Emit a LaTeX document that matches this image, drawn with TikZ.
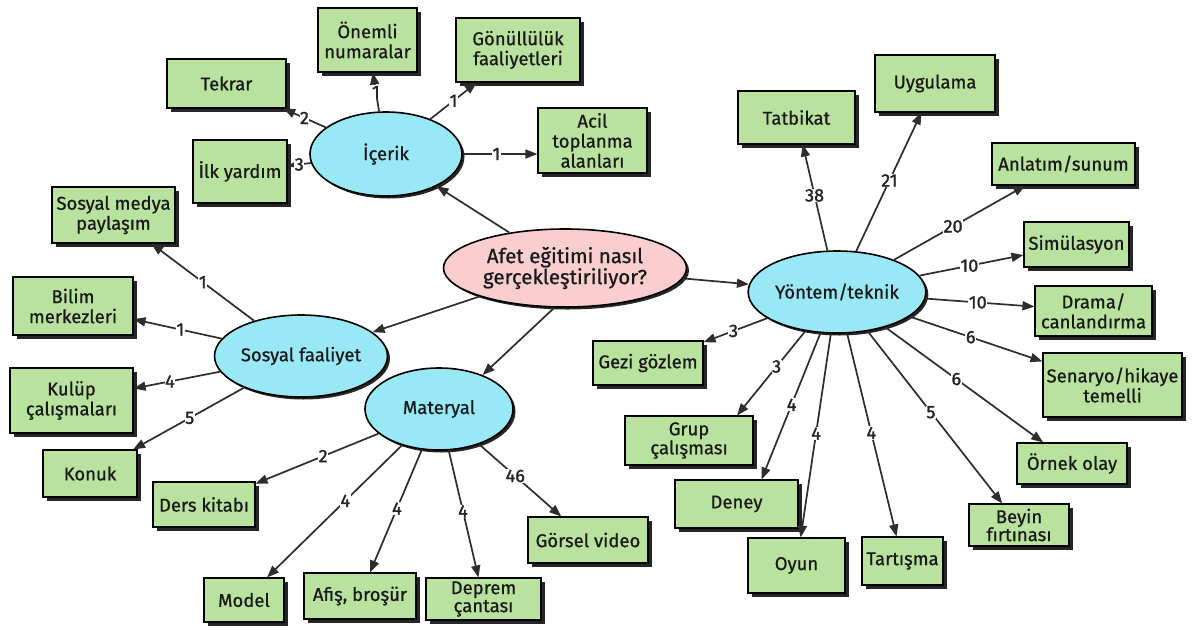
\documentclass[tikz,border=0pt]{standalone}
\usepackage{fontspec}
\setmainfont{Fira Sans}[FakeBold=0.7]
\newfontfamily\numfont{Fira Sans}[FakeBold=1.6]
\usetikzlibrary{shapes.geometric,shadows,arrows.meta,calc}
\definecolor{boxgreen}{RGB}{184,226,158}
\definecolor{ellblue}{RGB}{152,232,246}
\definecolor{ellpink}{RGB}{250,206,206}
\definecolor{linegray}{RGB}{45,45,45}
\begin{document}
\begin{tikzpicture}[x=1pt,y=-1pt,
  gbox/.style={draw=black, line width=1.1pt, fill=boxgreen, align=center, inner sep=1pt,
    font=\fontsize{18.5}{20}\selectfont, text=black!90,
    drop shadow={shadow xshift=4pt, shadow yshift=-4pt, fill=black!85, opacity=1}},
  ell/.style={ellipse, draw=black, line width=1.6pt, fill=ellblue, align=center, inner sep=1pt,
    font=\fontsize{18.5}{20}\selectfont, text=black!90,
    drop shadow={shadow xshift=2.5pt, shadow yshift=-2.5pt, fill=black!85, opacity=1}},
  arr/.style={-{Triangle[length=12pt,width=9pt]}, draw=linegray, line width=1.7pt},
  lbl/.style={fill=white, inner sep=0.5pt, font=\numfont\fontsize{18}{18}\selectfont, text=black!85}]
\fill[white] (0,0) rectangle (1194,630);
\useasboundingbox (0,0) rectangle (1194,630);

% central and category ellipses
\node[ell, fill=ellpink, minimum width=243pt, minimum height=78pt, font=\fontsize{20.5}{21}\selectfont] (center) at (565,268) {Afet eğitimi nasıl\\gerçekleştiriliyor?};
\node[ell, minimum width=152pt, minimum height=84pt] (icerik) at (386,154) {İçerik};
\node[ell, minimum width=148pt, minimum height=82pt] (sosyal) at (301,356) {Sosyal faaliyet};
\node[ell, minimum width=148pt, minimum height=82pt] (materyal) at (439,409) {Materyal};
\node[ell, minimum width=151pt, minimum height=82pt] (yontem) at (837,292) {Yöntem/teknik};

% İçerik boxes
\node[gbox, minimum width=99pt, minimum height=64pt] (onemli) at (367.5,40) {Önemli\\numaralar};
\node[gbox, minimum width=124pt, minimum height=64pt] (gonullu) at (518,50) {Gönüllülük\\faaliyetleri};
\node[gbox, minimum width=119pt, minimum height=49pt] (tekrar) at (226.5,83.5) {Tekrar};
\node[gbox, minimum width=109pt, minimum height=65pt] (acil) at (592.5,140.5) {Acil\\toplanma\\alanları};
\node[gbox, minimum width=94pt, minimum height=63pt] (ilk) at (240,171.5) {İlk yardım};

% Sosyal faaliyet boxes
\node[gbox, minimum width=123pt, minimum height=56pt] (medya) at (113.5,215) {Sosyal medya\\paylaşım};
\node[gbox, minimum width=120pt, minimum height=58pt] (bilim) at (73,306) {Bilim\\merkezleri};
\node[gbox, minimum width=123pt, minimum height=65pt] (kulup) at (71.5,400.5) {Kulüp\\çalışmaları};
\node[gbox, minimum width=94pt, minimum height=47pt] (konuk) at (90,473.5) {Konuk};

% Materyal boxes
\node[gbox, minimum width=102pt, minimum height=45pt] (ders) at (204,504.5) {Ders kitabı};
\node[gbox, minimum width=80pt, minimum height=44pt] (model) at (244,600) {Model};
\node[gbox, minimum width=112pt, minimum height=46pt] (afis) at (360,596) {Afiş, broşür};
\node[gbox, minimum width=115pt, minimum height=42pt] (deprem) at (483.5,599) {Deprem\\[-2pt]çantası};
\node[gbox, minimum width=120pt, minimum height=46pt] (gorsel) at (588,540) {Görsel video};

% Yöntem/teknik boxes
\node[gbox, minimum width=117pt, minimum height=53pt] (tatbikat) at (796.5,117.5) {Tatbikat};
\node[gbox, minimum width=120pt, minimum height=57pt] (uygulama) at (935,83.5) {Uygulama};
\node[gbox, minimum width=143pt, minimum height=42pt] (anlatim) at (1063.5,164) {Anlatım/sunum};
\node[gbox, minimum width=105pt, minimum height=45pt] (simul) at (1076.5,244.5) {Simülasyon};
\node[gbox, minimum width=117pt, minimum height=50pt] (drama) at (1093.5,311) {Drama/\\canlandırma};
\node[gbox, minimum width=139pt, minimum height=64pt] (senaryo) at (1112.5,385) {Senaryo/hikaye\\temelli};
\node[gbox, minimum width=110pt, minimum height=41pt] (ornek) at (1072,463.5) {Örnek olay};
\node[gbox, minimum width=100pt, minimum height=42pt] (beyin) at (1019,525) {Beyin\\[-2pt]fırtınası};
\node[gbox, minimum width=81pt, minimum height=48pt] (tartisma) at (902.5,561) {Tartışma};
\node[gbox, minimum width=97pt, minimum height=55pt] (oyun) at (796.5,565.5) {Oyun};
\node[gbox, minimum width=123pt, minimum height=48pt] (deney) at (736.5,504) {Deney};
\node[gbox, minimum width=128pt, minimum height=49pt] (grup) at (689,440.5) {Grup\\[-1pt]çalışması};
\node[gbox, minimum width=110pt, minimum height=44pt] (gezi) at (648,363) {Gezi gözlem};

% central connectors
\draw[arr] (center) -- (icerik);
\draw[arr] (center) -- (sosyal);
\draw[arr] (center.255) -- (materyal.38);
\draw[arr] (center) -- (yontem);

% İçerik connectors
\draw[arr] (icerik) -- node[lbl]{1} (onemli);
\draw[arr] (icerik) -- node[lbl]{1} (gonullu);
\draw[arr] (icerik.east) -- node[lbl,pos=0.45]{1} (icerik.east -| acil.west);
\draw[arr] (icerik) -- node[lbl]{2} (tekrar);
\draw[arr] (icerik) -- node[lbl]{3} (ilk);

% Sosyal connectors
\draw[arr] (sosyal) -- node[lbl]{1} (medya);
\draw[arr] (sosyal) -- node[lbl,pos=0.47]{1} (bilim);
\draw[arr] (sosyal) -- node[lbl,pos=0.58]{4} (kulup);
\draw[arr] (sosyal) -- node[lbl,pos=0.49]{5} (konuk);

% Materyal connectors
\draw[arr] (materyal) -- node[lbl,pos=0.45]{2} (ders);
\draw[arr] (materyal) -- node[lbl,pos=0.42]{4} (model);
\draw[arr] (materyal) -- node[lbl,pos=0.48]{4} (afis);
\draw[arr] (materyal) -- node[lbl,pos=0.48]{4} (deprem);
\draw[arr] (materyal) -- node[lbl,pos=0.44]{46} (gorsel);

% Yöntem connectors
\draw[arr] (yontem) -- node[lbl,pos=0.52]{38} (tatbikat);
\draw[arr] (yontem) -- node[lbl,pos=0.51]{21} (uygulama);
\draw[arr] (yontem) -- node[lbl,pos=0.45]{20} (anlatim);
\draw[arr] (yontem) -- node[lbl,pos=0.48]{10} (simul);
\draw[arr] (yontem) -- node[lbl,pos=0.48]{10} (drama);
\draw[arr] (yontem) -- node[lbl,pos=0.46]{6} (senaryo);
\draw[arr] (yontem) -- node[lbl,pos=0.45]{6} (ornek);
\draw[arr] (yontem) -- node[lbl,pos=0.47]{5} (beyin);
\draw[arr] (yontem) -- node[lbl,pos=0.49]{4} (tartisma);
\draw[arr] (yontem) -- node[lbl,pos=0.49]{4} (oyun);
\draw[arr] (yontem) -- node[lbl,pos=0.49]{4} ($(deney.north)+(25,0)$);
\draw[arr] (yontem) -- node[lbl,pos=0.42]{3} ($(grup.north)+(48,0)$);
\draw[arr] (yontem) -- node[lbl,pos=0.53]{3} (gezi);
\end{tikzpicture}
\end{document}
